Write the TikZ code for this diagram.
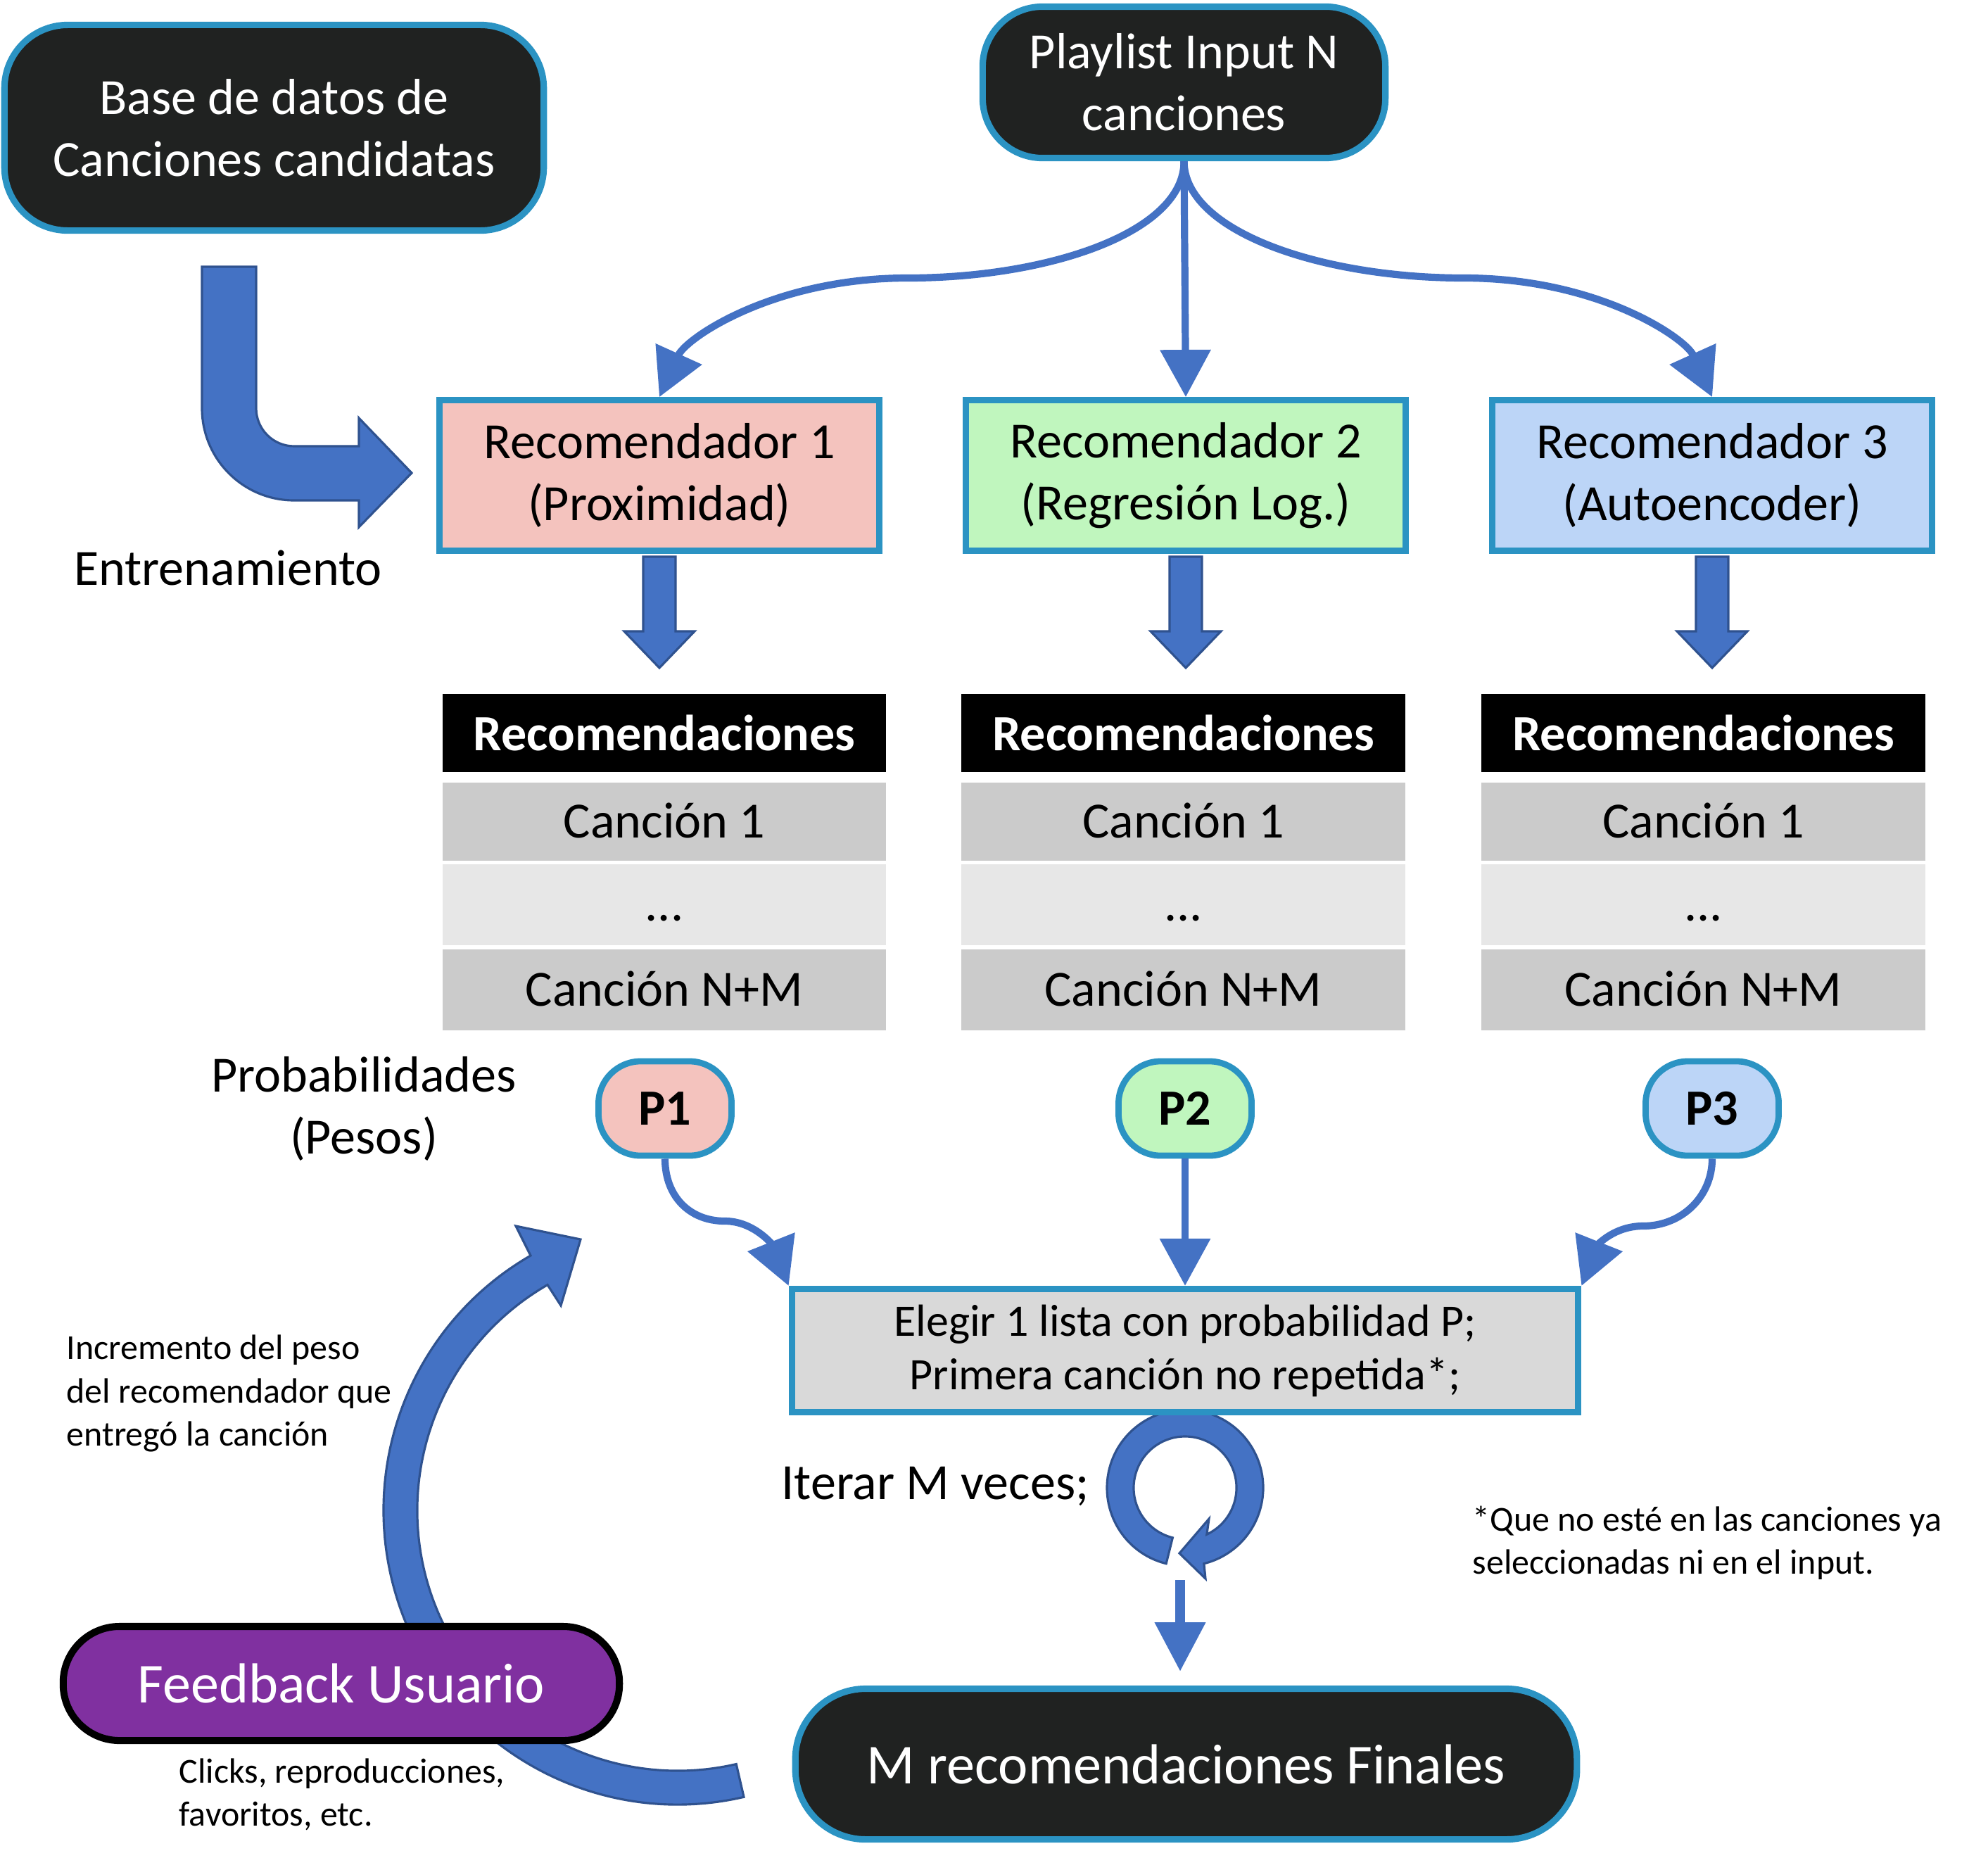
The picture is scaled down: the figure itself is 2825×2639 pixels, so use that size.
\documentclass[tikz,border=0pt]{standalone}
\usepackage{fontspec}
\setmainfont{Carlito}
\usepackage{tikz}
\usetikzlibrary{arrows.meta, backgrounds}
\usepackage{xcolor}
\definecolor{bordeAzul}{HTML}{2B93C3}
\definecolor{fondoOscuro}{HTML}{202221}
\definecolor{flechaAzul}{HTML}{4472C4}
\definecolor{flechaBorde}{HTML}{2F528F}
\definecolor{rosa}{HTML}{F4C3BE}
\definecolor{verde}{HTML}{C0F6BE}
\definecolor{celeste}{HTML}{BCD5F7}
\definecolor{grisFila}{HTML}{CBCBCB}
\definecolor{grisClaro}{HTML}{E7E7E7}
\definecolor{grisCaja}{HTML}{D9D9D9}
\definecolor{morado}{HTML}{8030A0}
\newcommand{\letraGrande}{\fontsize{20.5pt}{25pt}\selectfont}
\newcommand{\letraMedia}{\fontsize{18.2pt}{21.6pt}\selectfont}
\newcommand{\letraChica}{\fontsize{14.2pt}{17.4pt}\selectfont}
\newcommand{\letraXL}{\fontsize{22.8pt}{27.8pt}\selectfont}
\newcommand{\tablaRec}[2]{
\node[cabecera] (#1h) at (#2,1041.5) {Recomendaciones};
\node[fila, fill = grisFila] (#1a) at (#2,1167.5) {Canción 1};
\node[fila, fill = grisClaro, minimum height = 1.15cm] (#1b) at (#2,1285.5) {...};
\node[fila, fill = grisFila, minimum height = 1.15cm] (#1c) at (#2,1406.5) {Canción N+M};
}

\begin{document}
\begin{tikzpicture}[x = 0.01cm, y = -0.01cm,
    oscura/.style = {draw = bordeAzul, line width = 2.6pt, fill = fondoOscuro, text = white, rounded corners = 0.9cm, align = center, inner sep = 0pt, font = \letraGrande},
    recbox/.style = {draw = bordeAzul, line width = 2.5pt, minimum width = 6.25cm, minimum height = 2.14cm, align = center, inner sep = 0pt, font = \letraGrande},
    pnodo/.style = {draw = bordeAzul, line width = 2.5pt, minimum width = 1.89cm, minimum height = 1.34cm, rounded corners = 0.6cm, inner sep = 0pt, font = \letraGrande\bfseries},
    cabecera/.style = {fill = black, text = white, minimum width = 6.3cm, minimum height = 1.11cm, inner sep = 0pt, font = \letraGrande\bfseries},
    fila/.style = {minimum width = 6.3cm, minimum height = 1.11cm, inner sep = 0pt, text height = 0.55cm, text depth = 0.1cm, font = \letraGrande},
    conector/.style = {draw = flechaAzul, line width = 2.9pt, -{Triangle[width = 0.7cm, length = 0.67cm]}},
    bloque/.style = {fill = flechaAzul, draw = flechaBorde, line width = 0.9pt},
    nota/.style = {align = left, inner sep = 0pt, anchor = west, font = \letraChica},
    pics/bajada/.style = {code = {\draw[bloque] (-23,4) -- (23,4) -- (23,110) -- (50,110) -- (0,162) -- (-50,110) -- (-23,110) -- cycle;}}]
    \useasboundingbox (0,0) rectangle (2825,2639);
    % Entradas
    \node[oscura, minimum width = 7.66cm, minimum height = 2.92cm] (base) at (389.5,181.5) {Base de datos de\\Canciones candidatas};
    \node[oscura, minimum width = 5.72cm, minimum height = 2.15cm, rounded corners = 0.85cm] (play) at (1682.5,117) {Playlist Input N\\canciones};
    % Recomendadores
    \node[recbox, fill = rosa] (rec1) at (937,675.5) {Recomendador 1\\(Proximidad)};
    \node[recbox, fill = verde] (rec2) at (1685,675.5) {Recomendador 2\\(Regresión Log.)};
    \node[recbox, fill = celeste] (rec3) at (2433,675.5) {Recomendador 3\\(Autoencoder)};
    % Flecha de entrenamiento
    \draw[bloque] (287,379) -- (364,379) -- (364,580) arc[start angle = 180, end angle = 90, radius = 54] -- (510,634) -- (510,594) -- (585,672) -- (510,749) -- (510,711) -- (418,711) arc[start angle = 90, end angle = 180, radius = 131] -- cycle;
    \node[font = \letraGrande] (entrena) at (324,807) {Entrenamiento};
    % Playlist a recomendadores
    \draw[conector] (play.south) .. controls (1683,330) and (1490,395) .. (1290,395) .. controls (1100,395) and (975,480) .. (rec1.north);
    \draw[conector] (play.south) -- (rec2.north);
    \draw[conector] (play.south) .. controls (1683,330) and (1880,395) .. (2080,395) .. controls (2270,395) and (2395,480) .. (rec3.north);
    % Tablas de recomendaciones
    \pic at (rec1.south) {bajada};
    \pic at (rec2.south) {bajada};
    \pic at (rec3.south) {bajada};
    \tablaRec{ta}{944}
    \tablaRec{tb}{1681.5}
    \tablaRec{tc}{2420.5}
    % Pesos
    \node[font = \letraGrande, align = center] (pesos) at (517,1575) {Probabilidades\\(Pesos)};
    \node[pnodo, fill = rosa] (p1) at (945,1575) {P1};
    \node[pnodo, fill = verde] (p2) at (1684,1575) {P2};
    \node[pnodo, fill = celeste] (p3) at (2433,1575) {P3};
    \node[draw = bordeAzul, line width = 2.6pt, fill = grisCaja, minimum width = 11.17cm, minimum height = 1.75cm, align = center, inner sep = 0pt, font = \letraMedia] (elegir) at (1684,1919) {Elegir 1 lista con probabilidad P;\\Primera canción no repetida*;};
    \draw[conector] (p1.south) .. controls (945,1700) and (980,1735) .. (1030,1735) .. controls (1072,1735) and (1098,1770) .. (elegir.north west);
    \draw[conector] (p2.south) -- (elegir.north);
    \draw[conector] (p3.south) .. controls (2433,1700) and (2390,1742) .. (2335,1742) .. controls (2293,1742) and (2270,1770) .. (elegir.north east);
    % Iteracion
    \coordinate (giro) at (1684,2114);
    \begin{scope}[on background layer, shift = {(giro)}]
        \draw[bloque] (104:111) arc[start angle = 104, end angle = 436, radius = 111] -- (29,129) -- (-8,93) -- (34,44) -- (425:73) arc[start angle = 425, end angle = 104, radius = 73] -- cycle;
    \end{scope}
    \node[font = \letraGrande] (iterar) at (1329,2112) {Iterar M veces;};
    \node[nota] (aclara) at (2092,2192) {*Que no esté en las canciones ya\\seleccionadas ni en el input.};
    % Salida
    \node[oscura, minimum width = 11.1cm, minimum height = 2.14cm, rounded corners = 1cm, font = \letraXL] (final) at (1685.5,2506.5) {M recomendaciones Finales};
    \coordinate (bajaIni) at (1677,2245);
    \coordinate (bajaFin) at (1677,2375);
    \draw[flechaAzul, line width = 4pt, -{Triangle[width = 0.69cm, length = 0.7cm]}] (bajaIni) -- (bajaFin);
    % Feedback
    \coordinate (arco) at (963,2146);
    \begin{scope}[on background layer, shift = {(arco)}]
        \draw[bloque] (77:418) arc[start angle = 77, end angle = 240, radius = 418] -- (-230,-404) -- (-138,-385) -- (-166,-291) -- (240:370) arc[start angle = 240, end angle = 77, radius = 370] -- cycle;
    \end{scope}
    \node[draw = black, line width = 2.85pt, fill = morado, text = white, rounded corners = 0.8cm, minimum width = 7.9cm, minimum height = 1.62cm, inner sep = 0pt, font = \letraXL] (feedback) at (485,2392) {Feedback Usuario};
    \node[nota] (incremento) at (94,1980) {Incremento del peso\\del recomendador que\\entregó la canción};
    \node[nota] (clicks) at (254,2550) {Clicks, reproducciones,\\favoritos, etc.};
\end{tikzpicture}
\end{document}
